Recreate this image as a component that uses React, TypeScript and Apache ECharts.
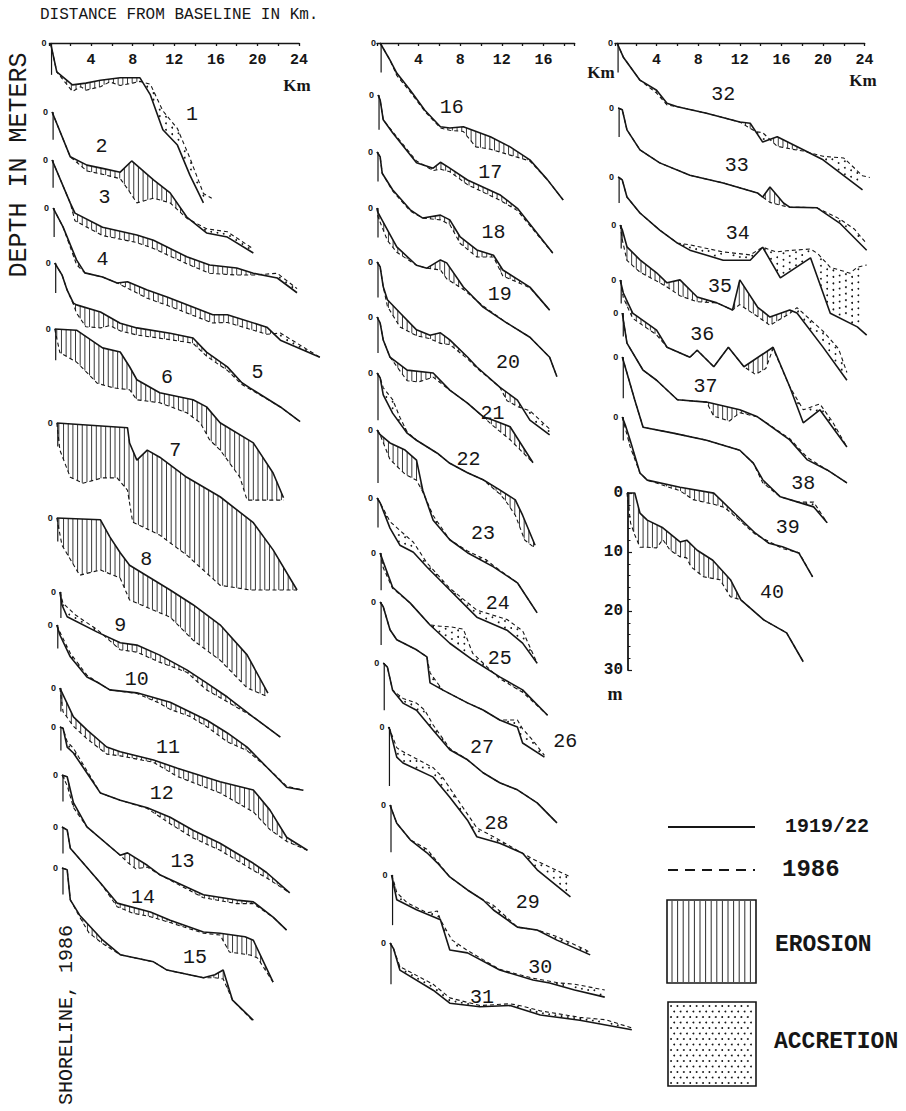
import React, { useEffect, useRef } from "react";
import * as echarts from "echarts";

// ---------- profile data: [km from baseline, depth m] ; "Old" = 1919/22, "New" = 1986 ----------
const p01Old = [[0.1,0],[0.7,4.9],[2.2,7.1],[3.5,6.8],[4.9,6.3],[6.8,5.9],[8.7,5.9],[9.7,8.8],[10.9,14.7],[12.3,17.3],[13.5,22.4],[14.8,27.1]];
const p01New = [[0.1,0],[0.7,4.9],[2.2,8.2],[3.0,7.4],[3.5,8.0],[4.9,7.4],[5.8,6.6],[6.8,7.2],[8.0,6.8],[8.7,6.5],[9.7,7.0],[10.9,11.5],[12.3,14.5],[13.5,19.5],[14.8,25.5],[15.6,26.3]];
const p02Old = [[0.25,0],[2.0,7.6],[3.6,9.0],[5.2,9.6],[6.8,10.2],[7.9,8.3],[10.0,11.5],[11.6,13.7],[13.2,17.8],[15.1,20.5],[17.1,21.2],[19.6,23.9]];
const p02New = [[0.25,0],[2.0,7.6],[3.6,10.0],[5.2,10.6],[6.8,11.3],[7.5,13.0],[8.4,15.4],[10.0,14.6],[11.6,15.4],[13.2,18.0],[15.1,19.8],[17.1,20.3],[19.6,23.2]];
const p03Old = [[0.25,0],[2.0,7.3],[2.45,9.0],[5.1,11.4],[8.4,12.7],[10.0,13.6],[13.2,16.4],[15.4,17.8],[18.0,18.3],[19.6,19.2],[21.9,20.0],[23.8,22.5]];
const p03New = [[0.25,0],[2.0,7.3],[2.45,10.3],[5.1,12.8],[8.4,14.0],[10.0,15.0],[13.2,17.6],[15.4,19.2],[18.0,19.5],[19.6,19.5],[21.9,19.2],[23.8,21.8]];
const p04Old = [[0.35,0],[1.3,3.2],[2.6,8.8],[3.4,11.0],[5.1,11.7],[6.5,12.7],[7.5,12.5],[9.4,13.9],[11.3,15.1],[15.7,18.1],[17.1,18.1],[20.9,20.2],[22.2,22.4],[26.0,25.3]];
const p04New = [[0.35,0],[1.3,3.2],[2.6,9.6],[3.4,11.0],[5.1,11.7],[6.5,12.7],[7.5,13.6],[9.4,15.3],[11.3,16.5],[15.7,19.5],[17.1,19.4],[20.9,21.4],[22.2,21.2],[23.5,22.6],[26.0,25.3]];
const p05Old = [[0.5,0],[1.2,2.0],[1.7,4.6],[2.3,6.8],[2.6,7.1],[4.9,8.3],[6.8,10.2],[8.4,11.0],[11.6,11.9],[13.8,12.7],[15.1,15.1],[17.1,17.6],[18.5,20.3],[19.3,21.2],[22.2,24.4],[24.1,26.9]];
const p05New = [[0.5,0],[1.2,2.0],[1.7,4.6],[2.3,7.0],[2.6,8.5],[3.5,10.8],[4.9,11.0],[5.8,10.6],[6.8,11.5],[8.4,12.2],[11.6,13.0],[13.8,13.6],[15.1,15.8],[17.1,18.2],[18.5,20.6],[19.3,21.4],[22.2,24.4],[24.1,26.9]];
const p06Old = [[0.5,0],[2.6,0.2],[5.1,3.2],[6.8,3.9],[7.7,6.4],[8.4,8.6],[10.6,10.8],[13.8,12.0],[15.1,13.2],[16.4,15.9],[19.6,19.3],[21.5,24.4],[22.5,28.6]];
const p06New = [[0.5,0],[1.0,4.0],[2.6,5.6],[4.6,9.2],[6.2,10.0],[7.7,10.3],[8.4,12.0],[10.6,12.5],[13.2,14.2],[14.5,15.9],[15.4,18.8],[16.4,20.5],[18.3,25.1],[19.0,29.0],[22.5,29.0]];
const p07Old = [[0.7,0],[7.5,0.8],[7.7,3.4],[8.4,6.3],[9.4,4.6],[10.6,5.8],[13.2,9.2],[16.4,12.5],[19.6,16.9],[21.5,21.5],[23.8,28.3]];
const p07New = [[0.7,0],[1.0,4.6],[2.0,9.2],[3.2,10.2],[5.1,9.3],[6.5,9.3],[7.5,11.4],[8.0,16.8],[10.6,19.0],[13.2,22.4],[16.4,27.5],[19.3,28.3],[23.8,28.3]];
const p08Old = [[0.7,0],[4.9,0.3],[5.8,3.2],[6.8,5.9],[7.7,8.0],[11.6,12.2],[13.8,14.7],[16.4,18.1],[19.0,23.2],[21.0,29.7]];
const p08New = [[0.7,0],[1.2,4.6],[2.9,9.7],[4.9,8.8],[6.8,10.2],[7.7,13.9],[11.6,16.8],[13.8,20.7],[16.4,24.1],[19.0,28.8],[21.0,30.3]];
const p09Old = [[1.0,0],[1.2,2.2],[1.7,4.2],[4.6,6.8],[6.8,8.6],[8.4,9.0],[10.6,10.7],[13.2,13.2],[15.1,15.4],[17.1,17.8],[19.6,21.2],[22.2,24.6]];
const p09New = [[1.0,0],[1.3,1.9],[2.5,3.9],[4.6,6.4],[6.8,9.8],[8.4,10.2],[10.6,11.9],[13.2,13.6],[15.1,16.6],[17.1,18.6],[19.6,21.2],[22.2,24.6]];
const p10Old = [[0.7,0],[1.0,1.7],[2.0,5.4],[3.6,8.8],[4.6,9.7],[5.8,11.0],[8.4,11.5],[11.6,13.1],[15.1,16.1],[17.1,18.3],[19.0,20.7],[20.9,24.1],[22.8,27.5],[24.4,28.0]];
const p10New = [[0.7,0],[1.0,1.2],[2.0,4.8],[3.6,8.5],[4.6,9.7],[5.8,11.0],[8.4,11.6],[10.5,13.2],[11.6,14.3],[13.5,15.5],[15.1,17.2],[17.1,19.8],[19.0,21.3],[20.9,24.1],[22.8,27.3],[24.4,28.0]];
const p11Old = [[1.0,0],[2.3,4.9],[3.6,7.1],[5.5,10.0],[6.8,10.8],[10.0,12.2],[12.3,13.6],[16.4,15.9],[19.6,17.3],[21.2,20.7],[22.8,25.3],[24.8,27.5]];
const p11New = [[1.0,0],[1.3,4.0],[2.3,6.5],[3.6,8.6],[5.5,11.2],[6.8,11.5],[10.0,12.6],[12.3,15.0],[16.4,17.8],[19.6,21.0],[21.2,24.0],[22.8,26.0],[24.8,27.5]];
const p12Old = [[1.0,0],[1.3,0.2],[1.7,3.4],[2.3,4.4],[3.6,7.8],[4.9,11.2],[6.8,12.4],[9.4,13.7],[11.6,15.3],[13.8,17.5],[16.4,19.7],[19.6,23.1],[20.9,24.7],[23.1,28.1]];
const p12New = [[1.0,0],[1.3,0.2],[1.7,2.5],[2.3,3.6],[3.6,7.4],[4.9,11.2],[6.8,12.4],[9.4,13.8],[11.6,16.4],[13.8,18.8],[16.4,20.9],[19.6,24.3],[20.9,25.6],[23.1,28.1]];
const p13Old = [[1.2,0],[1.7,0.3],[2.3,4.7],[3.6,8.8],[6.8,13.6],[7.5,13.2],[9.4,15.3],[10.6,16.9],[14.8,20.3],[18.0,21.2],[19.6,21.5],[21.5,24.1],[22.8,26.3]];
const p13New = [[1.2,0],[1.7,1.8],[2.3,5.5],[3.6,8.8],[6.8,13.6],[7.5,14.8],[8.3,15.9],[9.4,15.6],[10.6,16.9],[14.8,20.8],[18.0,21.8],[19.6,21.8],[21.5,24.1],[22.8,26.3]];
const p14Old = [[1.2,0],[1.7,0.5],[2.0,3.6],[4.9,9.5],[6.5,12.9],[9.7,14.4],[11.6,15.8],[14.8,17.8],[16.4,18.0],[18.8,18.6],[19.6,19.2],[21.5,26.3]];
const p14New = [[1.2,0],[1.7,0.5],[2.0,3.6],[4.9,9.5],[6.5,13.5],[8.0,14.6],[9.7,15.2],[11.6,16.2],[14.8,18.0],[16.4,18.3],[17.3,21.2],[19.3,21.7],[20.0,22.2],[21.5,26.3]];
const p15Old = [[1.2,0],[1.7,0.3],[2.0,5.4],[2.9,8.0],[5.1,12.2],[6.8,14.7],[10.0,15.9],[11.3,17.3],[14.8,18.6],[15.9,18.1],[16.7,17.3],[17.6,22.4],[19.6,25.8]];
const p15New = [[1.2,0],[1.7,0.3],[2.0,5.4],[2.9,8.3],[3.8,11.0],[5.1,12.8],[6.8,14.7],[10.0,15.9],[11.3,17.3],[14.8,18.6],[15.9,18.6],[16.7,18.8],[17.6,22.4],[19.6,26.0]];
const p16Old = [[0.3,0],[1.25,2.9],[1.9,5.1],[3.2,8.0],[4.6,11.4],[6.1,14.2],[7.0,14.4],[8.3,14.2],[10.9,15.9],[12.8,17.6],[14.7,19.8],[16.4,23.2],[17.9,26.6]];
const p16New = [[0.3,0],[1.25,2.9],[1.9,5.5],[3.2,8.3],[4.6,11.6],[6.1,14.4],[7.0,14.8],[8.3,15.0],[9.5,17.6],[10.9,18.0],[12.8,19.0],[14.7,20.0],[16.4,23.2],[17.9,26.6]];
const p17Old = [[0.1,0],[0.3,0.8],[0.6,4.2],[1.5,6.4],[3.8,11.5],[5.4,12.4],[6.1,11.4],[7.0,12.4],[8.7,14.4],[11.8,16.9],[13.5,19.2],[16.9,26.8]];
const p17New = [[0.1,0],[0.3,0.8],[0.6,4.2],[1.5,6.2],[3.8,11.2],[5.4,12.8],[6.1,12.6],[7.0,13.0],[8.7,15.2],[11.8,17.8],[13.5,19.6],[16.9,26.8]];
const p18Old = [[0,0],[0.3,0.8],[0.5,3.6],[1.5,6.4],[3.2,9.8],[4.4,11.2],[6.1,10.7],[7.0,11.5],[8.0,14.4],[9.6,16.6],[11.2,17.5],[12.1,20.0],[14.7,22.9],[16.6,26.8]];
const p18New = [[0,0],[0.3,0.8],[0.5,3.6],[1.5,6.6],[3.2,10.0],[4.4,11.2],[6.1,11.5],[7.0,12.3],[8.0,15.5],[9.6,17.8],[11.2,17.8],[12.1,21.0],[14.7,23.0],[16.6,26.8]];
const p19Old = [[0,0],[0.1,0.8],[1.0,3.7],[1.9,6.6],[3.8,9.7],[4.8,10.2],[6.1,8.8],[6.7,9.3],[8.3,13.4],[10.2,16.8],[12.5,19.5],[14.7,21.9],[16.6,25.3],[17.3,28.6]];
const p19New = [[0,0],[0.1,1.5],[1.0,5.5],[1.9,7.5],[3.8,9.7],[4.8,10.2],[6.1,10.5],[6.7,12.0],[8.3,13.8],[10.2,16.6],[12.5,19.5],[14.7,21.9],[16.6,25.3],[17.3,28.6]];
const p20Old = [[0,0],[0.3,0.8],[0.6,4.2],[1.0,6.4],[2.2,8.6],[3.8,11.5],[5.1,12.4],[6.1,12.0],[7.0,13.2],[8.7,16.1],[9.6,17.8],[11.8,21.2],[13.5,23.4],[14.7,26.8],[16.6,29.3]];
const p20New = [[0,0],[0.3,0.8],[0.6,4.2],[1.0,7.5],[2.2,11.0],[3.8,12.5],[5.1,13.0],[6.1,13.8],[7.0,14.0],[8.7,16.4],[9.6,18.0],[11.8,21.2],[12.5,23.5],[13.5,24.5],[14.7,25.2],[16.6,28.3]];
const p21Old = [[0,0],[0.3,1.0],[0.6,3.9],[1.25,6.8],[2.9,9.0],[5.4,9.5],[7.0,12.4],[8.7,14.6],[10.2,16.9],[11.2,17.5],[12.8,18.6],[15.0,24.7]];
const p21New = [[0,0],[0.3,1.0],[0.6,3.9],[1.25,6.8],[2.9,10.8],[4.0,11.0],[5.4,10.2],[7.0,12.4],[8.7,14.6],[10.2,16.9],[11.2,18.5],[12.8,20.8],[15.0,24.7]];
const p22Old = [[0,0],[0.3,0.8],[0.6,3.7],[1.5,6.8],[2.9,10.2],[3.8,11.4],[5.8,13.6],[7.0,15.3],[8.7,16.9],[10.2,18.1],[11.8,19.8],[13.3,21.5],[14.0,24.1],[15.2,29.2]];
const p22New = [[0,0],[0.3,0.8],[0.6,2.5],[1.5,4.5],[2.2,7.5],[2.9,10.0],[3.8,11.4],[5.8,13.6],[7.0,15.3],[8.7,16.9],[10.2,18.1],[11.8,20.5],[12.3,21.5],[13.3,24.1],[14.2,28.3],[15.2,29.7]];
const p23Old = [[0,0],[0.3,0.8],[1.25,2.2],[2.7,3.4],[3.8,5.1],[4.4,10.2],[5.4,15.3],[7.0,18.6],[8.7,20.8],[11.2,23.2],[13.5,25.9],[15.4,31.0]];
const p23New = [[0,0],[0.3,0.8],[1.25,5.0],[2.7,7.5],[3.8,8.5],[4.4,10.5],[5.4,14.5],[7.0,18.6],[8.7,20.5],[10.5,22.0],[11.2,23.0],[13.5,25.9],[15.4,31.0]];
const p24Old = [[0,0],[0.3,0.8],[1.25,5.1],[2.2,8.0],[3.5,9.2],[4.8,11.7],[7.0,15.6],[9.6,20.2],[12.5,22.4],[14.0,24.6],[15.4,28.0]];
const p24New = [[0,0],[0.3,0.8],[1.25,4.0],[2.2,5.5],[3.5,7.5],[4.8,11.0],[7.0,15.3],[9.6,19.0],[12.5,20.6],[14.0,22.5],[15.4,28.0]];
const p25Old = [[0.3,0],[0.6,1.5],[1.5,5.8],[3.2,8.5],[5.1,12.2],[7.0,15.3],[9.2,18.1],[11.8,21.0],[14.0,23.2],[16.4,27.5]];
const p25New = [[0.3,0],[0.6,2.5],[1.5,6.0],[3.2,8.5],[5.1,12.2],[6.0,12.4],[7.0,12.5],[8.3,12.9],[9.2,17.0],[11.8,21.3],[14.0,23.6],[16.4,27.5]];
const p26Old = [[0.3,0],[0.6,0.8],[1.25,4.7],[1.9,6.4],[3.8,8.1],[4.8,9.3],[5.1,13.7],[6.3,14.9],[8.7,17.1],[10.2,18.3],[11.8,20.0],[13.5,21.2],[14.0,23.9],[16.1,26.3]];
const p26New = [[0.3,0],[0.6,0.8],[1.25,4.7],[1.9,6.4],[3.8,8.1],[4.8,9.3],[5.1,12.0],[6.3,14.9],[8.7,17.1],[10.2,18.3],[11.8,20.0],[13.5,20.0],[14.0,21.5],[15.0,23.5],[16.1,26.0]];
const p27Old = [[0.6,0],[1.0,0.7],[1.5,4.6],[2.5,6.8],[3.8,8.0],[5.4,11.4],[7.0,14.7],[8.7,16.4],[10.2,18.6],[11.8,20.3],[13.5,21.5],[15.4,23.7],[17.3,27.1]];
const p27New = [[0.6,0],[1.0,0.7],[1.5,4.6],[2.5,6.0],[3.8,6.8],[4.6,8.0],[5.4,10.5],[7.0,14.5],[8.7,16.4],[10.2,18.6],[11.8,20.3],[13.5,21.5],[15.4,23.7],[17.3,27.1]];
const p28Old = [[1.1,0],[1.25,0.5],[1.9,5.1],[2.5,6.1],[5.4,8.5],[7.0,11.9],[8.7,15.8],[9.6,18.6],[11.8,19.7],[14.0,21.4],[15.4,24.2],[18.6,28.8]];
const p28New = [[1.1,0],[1.25,0.5],[1.9,3.5],[2.2,3.9],[5.4,6.9],[6.3,8.5],[7.9,12.7],[9.6,17.1],[11.2,18.6],[15.0,22.4],[18.6,25.4]];
const p29Old = [[1.25,0],[1.9,3.1],[3.2,5.9],[4.8,8.1],[5.8,9.8],[7.0,12.2],[8.7,14.4],[10.2,16.1],[11.2,17.8],[13.5,20.7],[15.4,21.2],[17.3,22.9],[20.5,25.4]];
const p29New = [[1.25,0],[1.9,3.1],[3.2,5.9],[4.8,7.5],[5.8,9.6],[7.0,12.2],[8.7,14.4],[10.2,16.1],[11.2,17.0],[13.5,20.7],[15.4,21.2],[17.3,22.3],[20.0,24.5],[20.5,25.0]];
const p30Old = [[1.4,0],[1.9,4.2],[3.8,5.9],[6.1,7.6],[7.0,12.7],[8.7,13.2],[11.8,16.1],[15.0,17.8],[16.6,18.3],[19.0,19.5],[21.9,20.7]];
const p30New = [[1.4,0],[1.6,1.0],[1.9,3.0],[2.9,4.7],[4.8,6.4],[5.8,6.1],[6.1,7.6],[7.2,11.0],[8.7,12.8],[11.8,16.0],[15.0,17.5],[17.5,18.3],[19.0,18.5],[21.9,19.5]];
const p31Old = [[1.25,0],[1.6,1.0],[2.2,4.6],[5.4,8.0],[7.0,10.2],[9.9,10.8],[12.8,10.6],[15.7,12.2],[19.5,13.1],[24.5,14.7]];
const p31New = [[1.25,0],[1.6,1.0],[2.2,4.0],[5.4,7.0],[7.0,9.3],[9.9,10.6],[12.8,10.3],[14.0,10.7],[15.7,11.5],[19.5,12.6],[22.0,13.0],[24.5,14.4]];
const p32Old = [[0.2,0],[0.8,2.4],[2.4,6.3],[4.0,8.0],[5.0,10.2],[6.0,10.8],[8.8,11.9],[12.0,13.4],[13.0,13.6],[14.2,16.8],[15.6,15.9],[18.1,18.1],[20.0,19.8],[23.8,24.9]];
const p32New = [[0.2,0],[0.8,2.4],[2.4,6.3],[4.0,8.5],[5.0,10.5],[6.0,10.8],[8.8,11.9],[12.0,13.4],[13.5,15.0],[14.2,15.2],[15.6,17.5],[17.0,18.0],[18.1,18.3],[20.0,19.2],[22.0,19.5],[23.8,22.5],[24.5,22.8]];
const p33Old = [[0.3,0],[0.7,0.3],[1.15,3.7],[2.4,7.1],[4.3,9.3],[7.2,11.4],[10.4,12.7],[13.7,14.4],[14.2,15.1],[14.9,13.4],[16.2,16.1],[16.8,16.8],[19.4,16.9],[21.6,19.5],[24.2,24.1]];
const p33New = [[0.3,0],[0.7,0.3],[1.15,3.7],[2.4,7.1],[4.3,9.3],[7.2,11.4],[10.4,12.7],[13.7,14.4],[14.2,15.1],[14.9,16.0],[16.2,16.6],[16.8,16.8],[19.4,16.9],[21.6,18.8],[23.0,20.5],[24.2,23.0]];
const p34Old = [[0.3,0],[0.7,0.5],[1.15,3.4],[2.4,6.1],[4.3,9.0],[6.0,11.2],[7.2,12.4],[10.4,14.1],[13.0,14.1],[14.2,11.9],[15.9,17.1],[18.8,13.7],[20.7,23.1],[23.3,25.4],[24.2,26.8]];
const p34New = [[0.3,0],[0.7,0.5],[1.15,3.4],[2.4,6.1],[4.3,9.0],[6.0,11.2],[7.2,11.5],[10.4,12.7],[13.0,13.2],[14.2,11.9],[15.5,12.7],[16.5,12.5],[18.8,12.2],[19.5,13.0],[20.7,15.3],[22.6,16.3],[23.3,15.3],[24.2,14.9]];
const p35Old = [[0.5,0],[0.7,0.8],[1.15,3.7],[2.4,5.9],[4.0,8.1],[5.0,9.8],[6.25,9.3],[7.9,12.2],[9.8,13.2],[11.3,14.4],[12.0,9.3],[13.7,13.9],[14.9,15.6],[16.8,14.4],[17.5,14.9],[20.0,20.7],[22.3,26.3]];
const p35New = [[0.5,0],[0.7,2.5],[1.15,6.0],[2.4,8.0],[4.0,9.5],[5.0,10.5],[6.25,12.0],[7.9,13.0],[9.8,13.2],[11.3,14.4],[12.0,13.5],[13.7,15.5],[14.9,17.0],[16.8,15.0],[17.5,14.0],[20.0,18.0],[21.5,21.0],[22.3,25.0]];
const p36Old = [[0.5,0],[0.8,2.2],[1.7,5.6],[4.0,8.5],[5.0,11.4],[7.2,13.1],[7.9,11.9],[9.5,14.7],[10.9,11.4],[12.4,14.7],[15.2,11.4],[16.8,18.1],[18.1,24.2],[19.7,22.0],[20.9,24.9],[22.3,28.3]];
const p36New = [[0.5,0],[0.8,3.0],[1.7,6.5],[4.0,9.3],[5.0,11.4],[7.2,13.1],[7.9,11.9],[9.5,14.7],[10.9,11.4],[12.4,14.7],[13.5,16.0],[14.5,15.0],[15.2,11.6],[16.8,18.1],[18.1,22.0],[19.7,21.0],[20.9,24.0],[22.3,28.3]];
const p37Old = [[0.7,0],[0.8,1.2],[1.15,5.1],[2.7,9.7],[4.0,11.4],[6.0,14.7],[8.8,15.1],[12.0,16.4],[13.7,17.6],[16.8,21.5],[18.5,24.9],[20.4,26.6],[22.3,28.8]];
const p37New = [[0.7,0],[0.8,1.2],[1.15,5.1],[2.7,9.7],[4.0,11.4],[6.0,14.7],[8.8,15.1],[9.5,17.5],[11.0,18.3],[12.0,16.9],[13.7,17.6],[16.8,21.3],[18.5,24.5],[20.4,26.6],[22.3,28.8]];
const p38Old = [[0.7,0],[1.15,2.7],[1.9,7.3],[2.7,11.9],[5.6,12.9],[8.8,14.1],[12.0,15.8],[13.3,18.0],[14.2,20.8],[15.9,23.7],[17.6,24.6],[19.1,25.4],[20.4,28.1]];
const p38New = [[0.7,0],[1.15,2.7],[1.9,7.3],[2.7,11.9],[5.6,12.9],[8.8,14.1],[12.0,15.8],[13.3,18.0],[14.2,21.3],[15.9,23.7],[17.6,24.6],[19.1,24.6],[20.4,28.1]];
const p39Old = [[0.7,0],[1.0,1.4],[1.45,3.9],[2.4,9.5],[3.1,10.7],[6.25,11.9],[9.5,12.9],[11.2,15.8],[13.5,19.7],[14.8,21.4],[16.1,22.0],[17.7,23.1],[19.0,27.1]];
const p39New = [[0.7,0],[1.0,2.0],[1.45,5.0],[2.4,9.5],[3.1,10.7],[6.25,12.5],[7.5,14.0],[9.5,14.8],[10.5,15.3],[11.2,16.3],[13.5,19.9],[16.1,22.3],[17.7,23.0],[19.0,27.1]];
const p40Old = [[1.15,0],[1.9,0],[2.4,3.4],[3.1,4.6],[4.6,5.9],[6.25,8.3],[6.9,8.0],[7.9,9.7],[9.4,11.4],[11.1,14.7],[12.1,18.1],[14.3,21.5],[16.5,23.7],[18.1,28.6]];
const p40New = [[1.15,0],[1.5,5.1],[1.9,7.1],[2.4,9.2],[3.1,9.2],[4.0,9.3],[4.6,7.9],[5.3,9.7],[6.25,10.8],[6.9,11.0],[7.3,12.5],[8.5,14.2],[10.1,14.7],[11.1,17.6],[12.1,18.1],[14.3,21.5],[16.5,23.7],[18.1,28.6]];

const PROFILE_NAMES = ["1","2","3","4","5","6","7","8","9","10","11","12","13","14","15","16","17","18","19","20","21","22","23","24","25","26","27","28","29","30","31","32","33","34","35","36","37","38","39","40"];

// depth (m) of the 1986 shoreline marker drawn at each profile's start
const SHORE_M = [5.4,4.7,4.7,4.9,5.1,5.3,4,4,4.4,4,4,4,4.5,4.5,4.5, 5,5.9,5,5,6,6.1,8,9,5,6.3,7.3,8,10,8,8.5,7, 5,4.9,4.4,4,4,4,7,4,0];

// profile-number label anchors in [km, depth] of each profile
const LABEL_AT = [[13.7,12.2],[5.0,5.9],[5.3,6.4],[5.1,8.8],[20.0,18.6],[11.3,8.3],[12.1,4.6],[9.3,7.1],[6.8,5.6],[8.4,9.3],[11.4,10.0],[10.8,11.2],[12.8,14.7],[9.0,11.9],[14.0,15.1],
  [7.2,11.0],[10.9,13.1],[11.2,13.6],[11.8,14.7],[12.6,17.1],[11.1,16.3],[8.8,14.7],[10.2,17.5],[11.6,17.8],[11.8,17.8],[18.1,23.7],[10.1,14.4],[11.5,16.3],[14.5,16.6],[15.7,15.6],[10.1,9.2],
  [10.4,8.8],[11.7,9.7],[11.8,9.5],[10.1,10.5],[8.4,9.3],[8.7,12.5],[18.1,21.4],[16.6,18.8],[15.1,16.9]];

const PROFILES = [
  [p01Old,p01New],[p02Old,p02New],[p03Old,p03New],[p04Old,p04New],[p05Old,p05New],[p06Old,p06New],[p07Old,p07New],[p08Old,p08New],
  [p09Old,p09New],[p10Old,p10New],[p11Old,p11New],[p12Old,p12New],[p13Old,p13New],[p14Old,p14New],[p15Old,p15New],[p16Old,p16New],
  [p17Old,p17New],[p18Old,p18New],[p19Old,p19New],[p20Old,p20New],[p21Old,p21New],[p22Old,p22New],[p23Old,p23New],[p24Old,p24New],
  [p25Old,p25New],[p26Old,p26New],[p27Old,p27New],[p28Old,p28New],[p29Old,p29New],[p30Old,p30New],[p31Old,p31New],[p32Old,p32New],
  [p33Old,p33New],[p34Old,p34New],[p35Old,p35New],[p36Old,p36New],[p37Old,p37New],[p38Old,p38New],[p39Old,p39New],[p40Old,p40New],
];

const DEPTH_TICKS = [0, 10, 20, 30];
const KM_AXIS_MAX = [24, 19, 24];

// ---------- layout (pixels) ----------
const COL_X0 = [49.5, 377, 615];
const KM_PX = 10.4;
const M_PX = 5.9;
const GRID_KM = 28;
const GRID_M = 32;
const PROFILE_COL = [0,0,0,0,0,0,0,0,0,0,0,0,0,0,0, 1,1,1,1,1,1,1,1,1,1,1,1,1,1,1,1, 2,2,2,2,2,2,2,2,2];
const PROFILE_TOP = [43,112,160,208,263,329,423,518,592,625,688,727,775,827,868, 43,95,152,208,262,317,373,430,498,553,602,663,727,805,875,943, 43,108,177,225,280,313,357,417,493];

const INK = "#161616";
const MONO = '"Liberation Mono", "DejaVu Sans Mono", monospace';
const SERIF = '"Liberation Serif", "DejaVu Serif", serif';

function interp(pts: number[][], k: number): number | null {
  if (k < pts[0][0] || k > pts[pts.length - 1][0]) return null;
  for (let j = 1; j < pts.length; j++) {
    if (k <= pts[j][0]) {
      const x0 = pts[j - 1][0], y0 = pts[j - 1][1], x1 = pts[j][0], y1 = pts[j][1];
      const t = x1 === x0 ? 0 : (k - x0) / (x1 - x0);
      return y0 + t * (y1 - y0);
    }
  }
  return pts[pts.length - 1][1];
}

function renderExtras(i: number, api: any) {
  const oldPts = PROFILES[i][0], newPts = PROFILES[i][1];
  const children: any[] = [];
  const k0 = Math.max(oldPts[0][0], newPts[0][0]);
  const k1 = Math.min(oldPts[oldPts.length - 1][0], newPts[newPts.length - 1][0]);
  // erosion hatching
  for (let k = k0 + 0.2; k < k1; k += 0.45) {
    const a = interp(oldPts, k), b = interp(newPts, k);
    if (a === null || b === null) continue;
    if (b - a > 0.3) {
      const pa = api.coord([k, a]), pb = api.coord([k, b]);
      children.push({ type: "line", shape: { x1: pa[0], y1: pa[1], x2: pb[0], y2: pb[1] }, style: { stroke: INK, lineWidth: 0.85 } });
    }
  }
  // accretion dots
  let col = 0;
  for (let k = k0 + 0.3; k < k1; k += 0.6, col++) {
    const a = interp(oldPts, k), b = interp(newPts, k);
    if (a === null || b === null) continue;
    if (a - b > 0.4) {
      const pa = api.coord([k, a]), pb = api.coord([k, b]);
      const h = pa[1] - pb[1];
      if (h < 6.5) {
        children.push({ type: "circle", shape: { cx: pa[0], cy: (pa[1] + pb[1]) / 2, r: 0.9 }, style: { fill: INK } });
      } else {
        for (let y = pb[1] + 2.2 + (col % 2) * 3.2; y < pa[1] - 1.5; y += 6.5) {
          children.push({ type: "circle", shape: { cx: pa[0], cy: y, r: 0.9 }, style: { fill: INK } });
        }
      }
    }
  }
  const s0 = api.coord([oldPts[0][0], 0]);
  if (SHORE_M[i] > 0) {
    const s1 = api.coord([oldPts[0][0], SHORE_M[i]]);
    children.push({ type: "line", shape: { x1: s0[0] + 1, y1: s0[1], x2: s1[0] + 1, y2: s1[1] }, style: { stroke: INK, lineWidth: 1.2 } });
  }
  if (i !== 39) {
    children.push({ type: "text", style: { text: "0", x: s0[0] - 4, y: s0[1], align: "right", verticalAlign: "middle", font: 'bold 9px "Liberation Sans", sans-serif', fill: INK } });
  }
  const lp = api.coord(LABEL_AT[i]);
  children.push({ type: "text", style: { text: PROFILE_NAMES[i], x: lp[0], y: lp[1], align: "center", verticalAlign: "middle", font: `20px ${MONO}`, fill: INK } });
  return { type: "group", children };
}

function buildOption() {
  const grid: any[] = [], xAxis: any[] = [], yAxis: any[] = [], series: any[] = [];
  PROFILES.forEach((p, i) => {
    const c = PROFILE_COL[i];
    const isAxis = i === 39;
    const mMax = isAxis ? 30 : GRID_M;
    grid.push({ left: COL_X0[c], top: PROFILE_TOP[i], width: GRID_KM * KM_PX, height: mMax * M_PX, containLabel: false, outerBoundsMode: "none" });
    xAxis.push({ gridIndex: i, type: "value", min: 0, max: GRID_KM, show: false });
    if (isAxis) {
      yAxis.push({
        gridIndex: i, type: "value", min: 0, max: 30, interval: 10, inverse: true, position: "left", offset: -13,
        axisLine: { show: true, onZero: false, lineStyle: { color: INK, width: 1.8 } },
        axisTick: { show: true, inside: true, length: 4, lineStyle: { color: INK, width: 1.2 } },
        minorTick: { show: true, splitNumber: 5, length: 2.5, lineStyle: { color: INK, width: 1 } },
        axisLabel: { show: true, color: INK, fontFamily: MONO, fontWeight: "bold", fontSize: 16, margin: 5, formatter: (v: number) => (DEPTH_TICKS.indexOf(v) >= 0 ? String(v) : "") },
        splitLine: { show: false },
      });
    } else {
      yAxis.push({ gridIndex: i, type: "value", min: 0, max: mMax, inverse: true, show: false });
    }
    series.push({ type: "custom", xAxisIndex: i, yAxisIndex: i, data: [[0, 0]], silent: true, clip: false, z: 2, renderItem: (_params: any, api: any) => renderExtras(i, api) });
    series.push({ type: "line", xAxisIndex: i, yAxisIndex: i, data: p[0], symbol: "none", silent: true, clip: false, z: 3, lineStyle: { color: INK, width: 1.6 } });
    series.push({ type: "line", xAxisIndex: i, yAxisIndex: i, data: p[1], symbol: "none", silent: true, clip: false, z: 4, lineStyle: { color: INK, width: 1.1, type: [4, 3] } });
  });

  // distance axes at the top of each column
  [0, 1, 2].forEach((c) => {
    const gi = 40 + c;
    grid.push({ left: COL_X0[c], top: 42, width: KM_AXIS_MAX[c] * KM_PX, height: 1, containLabel: false, outerBoundsMode: "none" });
    xAxis.push({
      gridIndex: gi, type: "value", min: 0, max: KM_AXIS_MAX[c], interval: 2, position: "bottom",
      axisLine: { show: true, onZero: false, lineStyle: { color: INK, width: 1.4 } },
      axisTick: { show: true, length: 3, lineStyle: { color: INK, width: 1.3 } },
      splitLine: { show: false },
      axisLabel: { show: true, color: INK, fontFamily: MONO, fontWeight: "bold", fontSize: 15, margin: 10, showMaxLabel: true, formatter: (v: number) => (v > 0 && v % 4 === 0 ? String(v) : "") },
    });
    yAxis.push({ gridIndex: gi, type: "value", min: 0, max: 1, show: false });
  });

  const g: any[] = [];
  const txt = (text: string, x: number, y: number, font: string, extra: any = {}) =>
    g.push({ type: "text", x, y, rotation: extra.rotation || 0, style: { text, x: 0, y: 0, font, fill: INK, align: extra.align || "left", verticalAlign: "middle" }, silent: true });

  txt("DISTANCE FROM BASELINE IN Km.", 40, 15, `16px ${MONO}`);
  txt("DEPTH IN METERS", 19, 165, `25px ${MONO}`, { rotation: Math.PI / 2, align: "center" });
  txt("SHORELINE, 1986", 66, 1015, `20px ${MONO}`, { rotation: Math.PI / 2, align: "center" });
  txt("Km", 297, 85, `bold 17px ${SERIF}`, { align: "center" });
  txt("Km", 601, 72, `bold 17px ${SERIF}`, { align: "center" });
  txt("Km", 863, 80, `bold 17px ${SERIF}`, { align: "center" });
  txt("m", 615, 694, `bold 18px ${SERIF}`, { align: "center" });

  // legend
  g.push({ type: "line", shape: { x1: 668, y1: 827, x2: 755, y2: 827 }, style: { stroke: INK, lineWidth: 2 }, silent: true });
  g.push({ type: "line", shape: { x1: 668, y1: 870, x2: 755, y2: 870 }, style: { stroke: INK, lineWidth: 2, lineDash: [10, 7] }, silent: true });
  g.push({ type: "rect", shape: { x: 667, y: 900, width: 89, height: 83 }, style: { fill: "none", stroke: INK, lineWidth: 1.6 }, silent: true });
  for (let x = 672; x < 755; x += 5.6) {
    g.push({ type: "line", shape: { x1: x, y1: 901, x2: x, y2: 982 }, style: { stroke: INK, lineWidth: 0.9 }, silent: true });
  }
  g.push({ type: "rect", shape: { x: 668, y: 1002, width: 88, height: 84 }, style: { fill: "none", stroke: INK, lineWidth: 1.6 }, silent: true });
  let row = 0;
  for (let y = 1006; y < 1084; y += 5.5, row++) {
    for (let x = 671 + (row % 2) * 3.2; x < 754; x += 6.4) {
      g.push({ type: "circle", shape: { cx: x, cy: y, r: 0.95 }, style: { fill: INK }, silent: true });
    }
  }
  txt("1919/22", 785, 826, `bold 20px ${MONO}`);
  txt("1986", 782, 869, `bold 24px ${MONO}`);
  txt("EROSION", 775, 945, `bold 23px ${MONO}`);
  txt("ACCRETION", 774, 1042, `bold 23px ${MONO}`);

  return {
    animation: false,
    backgroundColor: "#ffffff",
    grid, xAxis, yAxis, series,
    graphic: { elements: g },
  };
}

export default function App() {
  const ref = useRef<HTMLDivElement>(null);
  useEffect(() => {
    document.body.style.margin = "0";
    const chart = echarts.init(ref.current as HTMLDivElement, null, { renderer: "svg" });
    chart.setOption(buildOption() as any);
    return () => chart.dispose();
  }, []);
  return <div ref={ref} style={{ width: 906, height: 1111, background: "#fff" }} />;
}
